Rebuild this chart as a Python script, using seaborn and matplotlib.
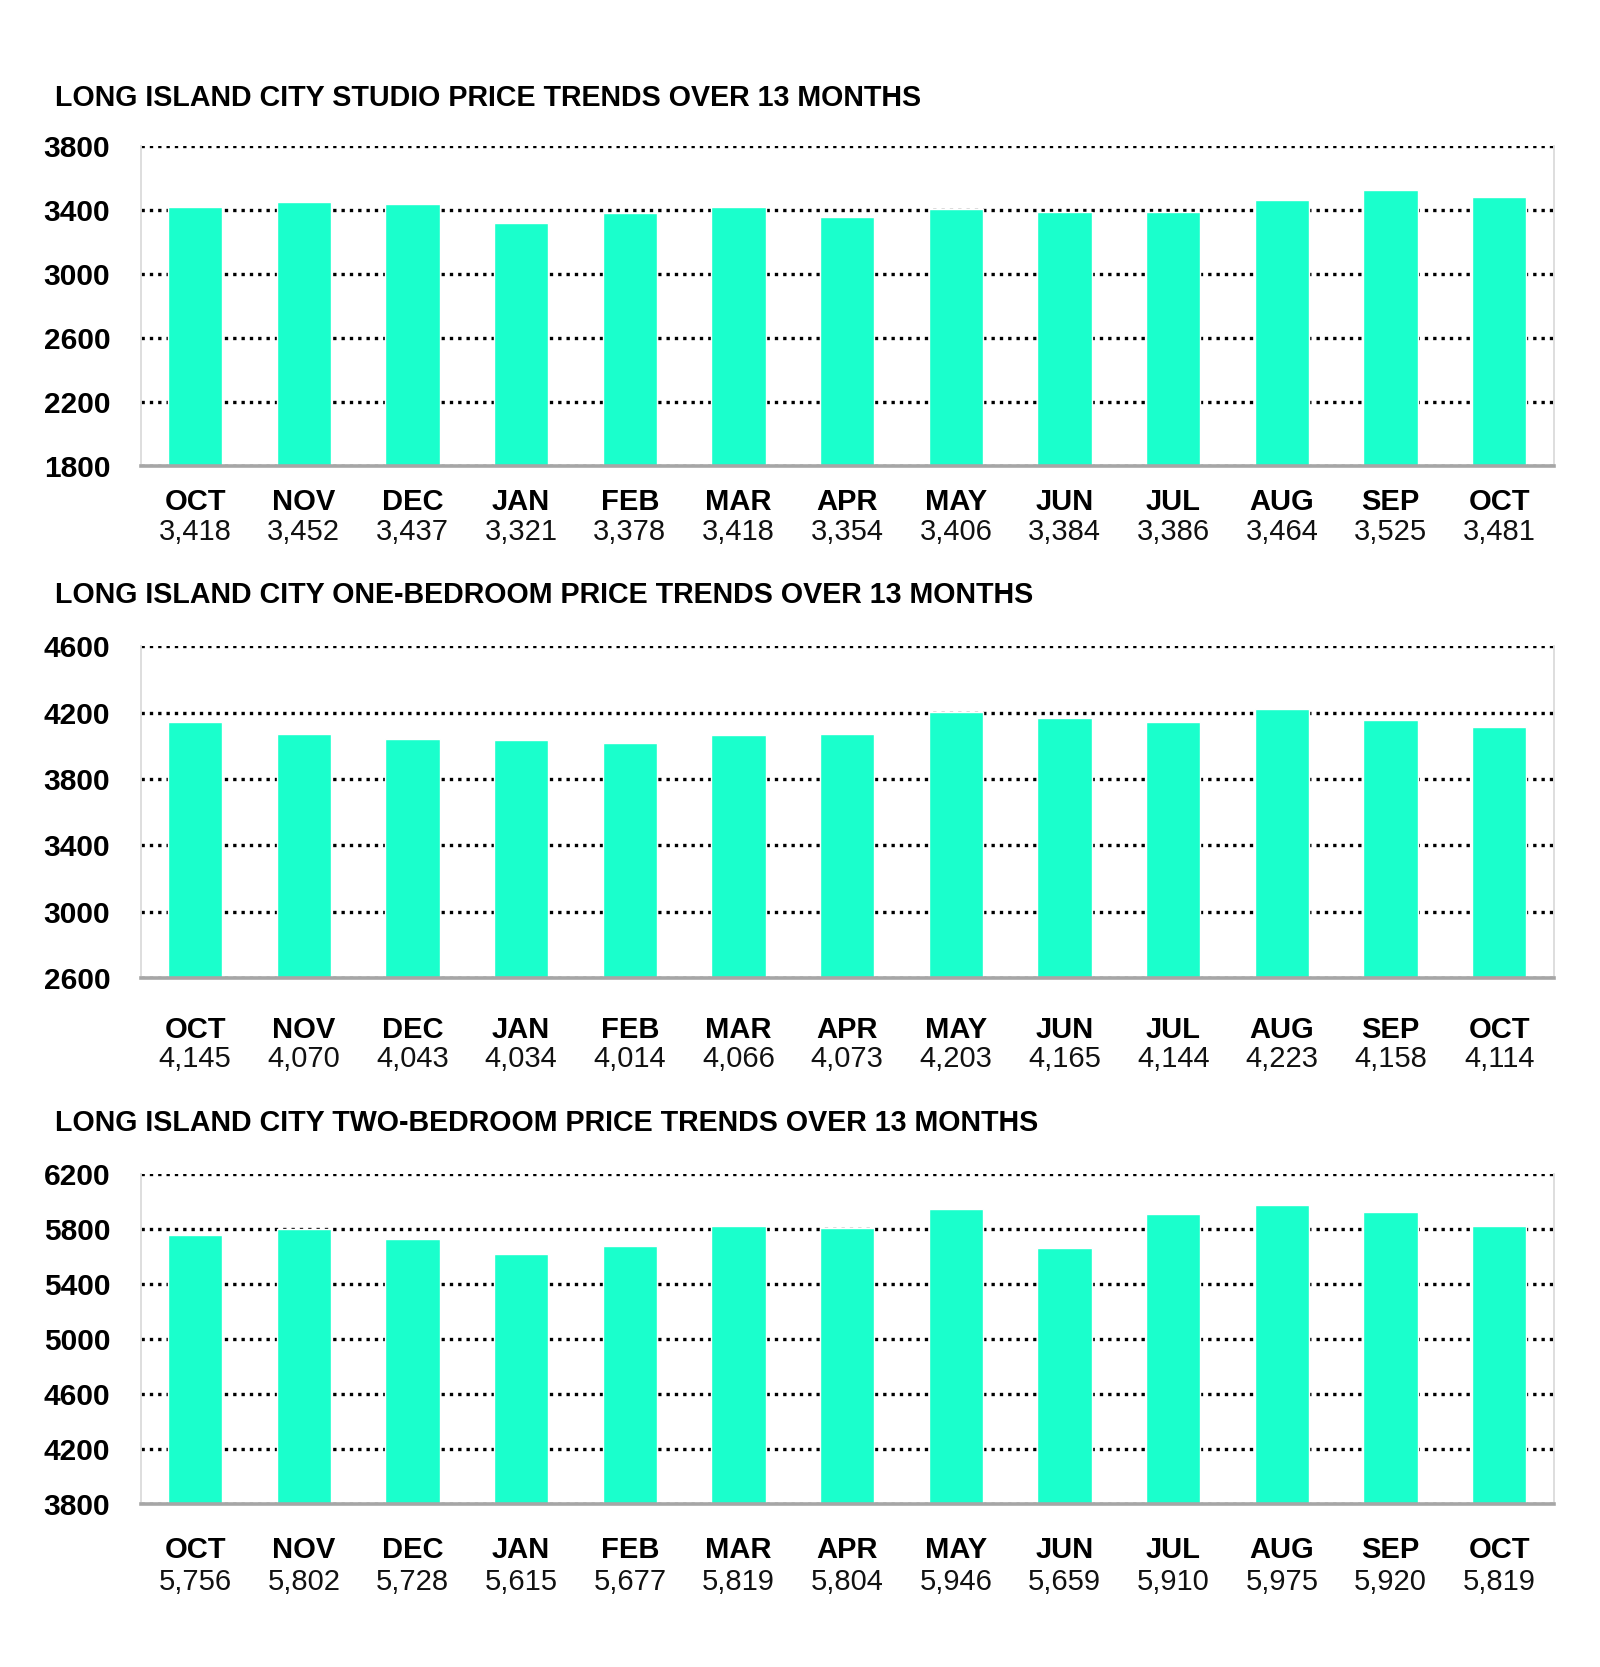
import seaborn as sns
import pandas as pd
import numpy as np
import matplotlib.pyplot as plt

months = ["OCT", "NOV", "DEC", "JAN", "FEB", "MAR", "APR", "MAY", "JUN", "JUL", "AUG", "SEP", "OCT"]
studio = [3418, 3452, 3437, 3321, 3378, 3418, 3354, 3406, 3384, 3386, 3464, 3525, 3481]
one_bed = [4145, 4070, 4043, 4034, 4014, 4066, 4073, 4203, 4165, 4144, 4223, 4158, 4114]
two_bed = [5756, 5802, 5728, 5615, 5677, 5819, 5804, 5946, 5659, 5910, 5975, 5920, 5819]

titles = ["LONG ISLAND CITY STUDIO PRICE TRENDS OVER 13 MONTHS",
          "LONG ISLAND CITY ONE-BEDROOM PRICE TRENDS OVER 13 MONTHS",
          "LONG ISLAND CITY TWO-BEDROOM PRICE TRENDS OVER 13 MONTHS"]
ylims = [(1800, 3800), (2600, 4600), (3800, 6200)]

sns.set_theme(style="white")
plt.rcParams['font.family'] = ['Liberation Sans', 'DejaVu Sans']
plt.rcParams['text.color'] = 'black'
plt.rcParams['xtick.color'] = 'black'
plt.rcParams['ytick.color'] = 'black'

fig = plt.figure(figsize=(16, 16.67), dpi=100)
# axes boxes [left, bottom, width, height] in figure fraction
boxes = [[0.088, 0.7205, 0.883, 0.192],
         [0.088, 0.4133, 0.883, 0.199],
         [0.088, 0.0978, 0.883, 0.198]]
title_y = [0.941, 0.643, 0.3265]
month_pad = [16, 27, 23]
value_off = [-66, -81, -78]
bar_color = "#1AFFCC"

for k, vals in enumerate([studio, one_bed, two_bed]):
    ax = fig.add_axes(boxes[k])
    df = pd.DataFrame({"pos": list(range(len(months))), "price": vals})
    sns.barplot(data=df, x="pos", y="price", color=bar_color, width=0.5,
                saturation=1, ax=ax, zorder=3)
    lo, hi = ylims[k]
    ax.set_ylim(lo, hi)
    ax.set_xlim(-0.5, len(months) - 0.5)
    ax.set_yticks(np.arange(lo, hi + 1, 400))
    ax.grid(axis="y", color="black", linestyle=(0, (1, 1.5)), linewidth=2.4, zorder=1)
    ax.set_xlabel("")
    ax.set_ylabel("")
    ax.set_xticks(range(len(months)))
    ax.set_xticklabels(months, fontsize=21, fontweight="bold")
    ax.tick_params(axis="x", length=0, pad=month_pad[k])
    ax.set_xticks([i - 0.5 for i in range(len(months) + 1)], minor=True)
    ax.tick_params(axis="x", which="minor", length=7, width=1.5, color="#A6A6A6", direction="out")
    ax.tick_params(axis="y", length=0, pad=22, labelsize=21.5)
    for lab in ax.get_yticklabels():
        lab.set_fontweight("bold")
    ax.spines["top"].set_visible(False)
    ax.spines["left"].set_color("#D9D9D9")
    ax.spines["right"].set_color("#D9D9D9")
    ax.spines["bottom"].set_color("#A6A6A6")
    ax.spines["bottom"].set_linewidth(2.6)
    ax.spines["bottom"].set_zorder(5)
    for i, v in enumerate(vals):
        ax.annotate(f"{v:,}", xy=(i, 0), xycoords=("data", "axes fraction"),
                    xytext=(0, value_off[k]), textcoords="offset pixels",
                    ha="center", va="center", fontsize=21, color="#111111")
    fig.text(0.0345, title_y[k], titles[k], fontsize=20.6, fontweight="bold",
             ha="left", va="center", color="black")

fig.savefig("out.png", dpi=100, facecolor="white")
